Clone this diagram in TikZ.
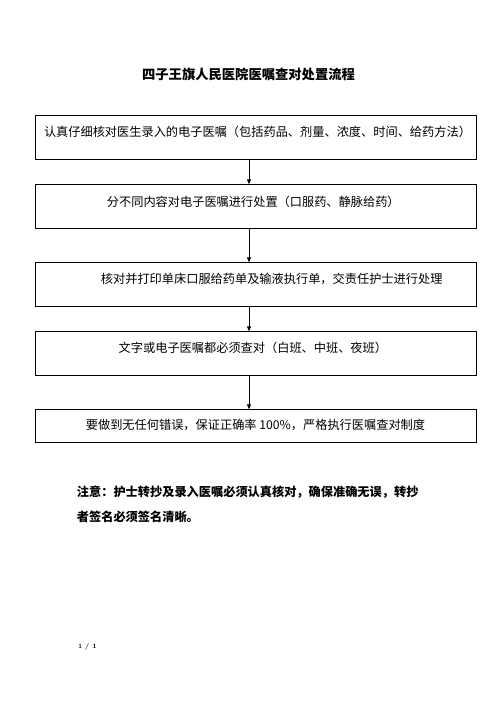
\documentclass[tikz,border=0pt]{standalone}
\usepackage{fontspec}
\newfontfamily\cjk{Noto Sans CJK SC}
\usetikzlibrary{arrows.meta}
\begin{document}
\begin{tikzpicture}[x=1pt,y=-1pt,
  boxst/.style={draw,line width=0.9pt,minimum width=440.7pt,anchor=north west,inner sep=0pt},
  txt/.style={font=\cjk\fontsize{12.2pt}{14pt}\selectfont,inner sep=0pt},
  arr/.style={-{Triangle[length=5pt,width=4pt]},line width=0.9pt}]
\useasboundingbox (0,0) rectangle (496,702);
\node[font=\cjk\bfseries\fontsize{13.3pt}{16pt}\selectfont,inner sep=0pt] (title) at (248.5,74) {四子王旗人民医院医嘱查对处置流程};

\node[boxst,minimum height=44.3pt] (b1) at (35,115) {};
\node[boxst,minimum height=44pt] (b2) at (35,184.3) {};
\node[boxst,minimum height=44pt] (b3) at (35,262.3) {};
\node[boxst,minimum height=44pt] (b4) at (35,331.3) {};
\node[boxst,minimum height=32.4pt] (b5) at (35,409.3) {};

\node[txt] (t1) at (257.5,131.7) {认真仔细核对医生录入的电子医嘱（包括药品、剂量、浓度、时间、给药方法）};
\node[txt] (t2) at (253.3,201.7) {分不同内容对电子医嘱进行处置（口服药、静脉给药）};
\node[txt] (t3) at (271.7,279.3) {核对并打印单床口服给药单及输液执行单，交责任护士进行处理};
\node[txt] (t4) at (252.9,348.3) {文字或电子医嘱都必须查对（白班、中班、夜班）};
\node[txt] (t5) at (255.5,425) {要做到无任何错误，保证正确率 100\%，严格执行医嘱查对制度};

\draw[arr] (b1.south -| 249,0) -- (b2.north -| 249,0);
\draw[arr] (b2.south -| 249,0) -- (b3.north -| 249,0);
\draw[arr] (b3.south -| 249,0) -- (b4.north -| 249,0);
\draw[arr] (b4.south -| 249,0) -- (b5.north -| 249,0);

\node[font=\cjk\bfseries\fontsize{12.2pt}{14pt}\selectfont,inner sep=0pt,anchor=west] (n1) at (76.7,491.7) {注意：护士转抄及录入医嘱必须认真核对，确保准确无误，转抄};
\node[font=\cjk\bfseries\fontsize{12.2pt}{14pt}\selectfont,inner sep=0pt,anchor=west] (n2) at (76.7,516.7) {者签名必须签名清晰。};

\node[font=\bfseries\fontsize{6.5pt}{7pt}\selectfont,inner sep=0pt,anchor=west] (pg) at (78,646.7) {1 / 1};
\end{tikzpicture}
\end{document}
